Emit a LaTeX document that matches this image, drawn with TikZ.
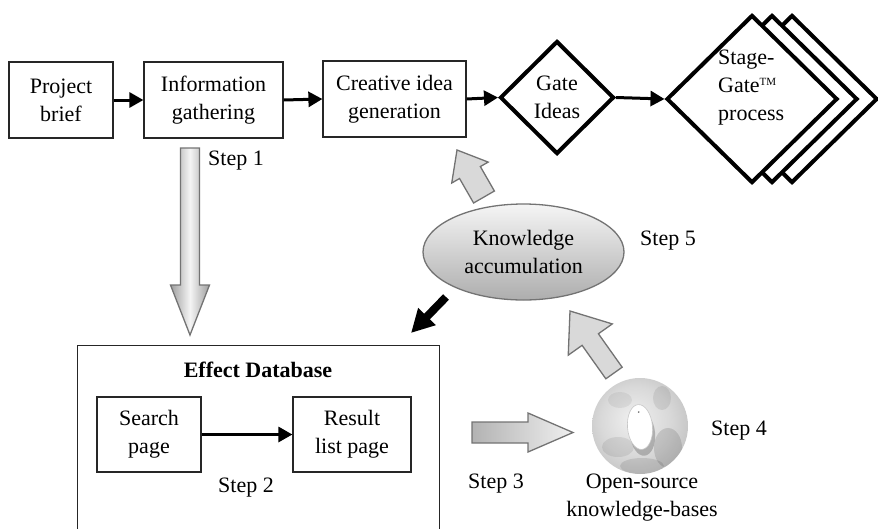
\documentclass[tikz,border=0pt]{standalone}
\usepackage{fontspec}
\setmainfont{Liberation Serif}
\usetikzlibrary{arrows.meta,calc,shapes.geometric}

% radial shading for the textured sphere
\pgfdeclareradialshading{globeshade}{\pgfpoint{-4bp}{4bp}}{%
  color(0bp)=(black!6); color(18bp)=(black!15); color(30bp)=(black!24); color(36bp)=(black!34); color(50bp)=(black!34)}

% block arrow: #1 style, #2 tail, #3 tip, #4 half shaft, #5 half head, #6 head length
\newcommand\blockarrow[6]{%
  \coordinate (bah) at ($(#3)!#6!(#2)$);
  \path[#1] ($(#2)!#4!90:(#3)$) -- ($(bah)!#4!90:(#3)$) -- ($(bah)!#5!90:(#3)$)
    -- (#3) -- ($(bah)!#5!-90:(#3)$) -- ($(bah)!#4!-90:(#3)$) -- ($(#2)!#4!-90:(#3)$) -- cycle;
}

\begin{document}
\begin{tikzpicture}[x=1pt,y=-1pt,
  every node/.style={font=\fontsize{22}{28}\selectfont, align=center},
  box/.style={draw=black!85, line width=1.2pt, fill=white, inner sep=0pt},
  flow/.style={line width=3pt, -{Triangle[length=14pt,width=15pt]}},
  gate/.style={diamond, draw=black, line width=4pt, fill=white, inner sep=0pt},
  grayarrow/.style={draw=black!55, line width=1.3pt, line join=miter},
  steplabel/.style={inner sep=0pt}
]
\useasboundingbox (0,0) rectangle (878,528);
\clip (0,0) rectangle (878,528);

% top process chain
\node[box, minimum width=104pt, minimum height=76pt] (brief) at (61,100) {Project\\brief};
\node[box, minimum width=139pt, minimum height=76pt] (info) at (213.5,100) {Information\\gathering};
\node[box, minimum width=143pt, minimum height=76pt] (creative) at (394.5,99) {Creative idea\\generation};
\node[gate, minimum width=114pt, minimum height=113pt] (gateideas) at (557,97.5) {Gate\\Ideas};

\node[gate, minimum width=171pt, minimum height=168pt] (sg3) at (792,99) {};
\node[gate, minimum width=171pt, minimum height=168pt] (sg2) at (772,99) {};
\node[gate, minimum width=171pt, minimum height=168pt] (sg1) at (752,99) {};
\node[inner sep=0pt, anchor=west, align=left] (sgtext) at (718,88)
  {Stage-\\Gate\raisebox{7pt}{\fontsize{11}{11}\selectfont TM}\\process};

\draw[flow] (brief.east) -- (info.west);
\draw[flow] (info.east) -- (creative.west);
\draw[flow] (creative.east) -- (gateideas.west);
\draw[flow] (gateideas.east) -- (sg1.west);

% effect database
\node[box, minimum width=362pt, minimum height=215pt, anchor=north west] (edb) at (77,345) {};
\node[font=\fontsize{22}{28}\selectfont\bfseries, inner sep=0pt] (edbtitle) at (258,370) {Effect Database};
\node[box, minimum width=104pt, minimum height=75pt] (search) at (149,434.5) {Search\\page};
\node[box, minimum width=118pt, minimum height=75pt] (result) at (352,434.5) {Result\\list page};
\draw[flow] (search.east) -- (result.west);

% knowledge accumulation
\node[ellipse, draw=black!55, line width=1.3pt, top color=black!4, bottom color=black!32,
      minimum width=201pt, minimum height=96pt, inner sep=0pt] (know) at (523.5,252) {Knowledge\\accumulation};

% open-source knowledge sphere with a mouse on it
\node[circle, shading=globeshade, minimum size=96pt, inner sep=0pt] (globe) at (640,426) {};
\begin{scope}
  \clip (globe.center) circle (48);
  \fill[black, opacity=0.08] (618,447) ellipse [x radius=16, y radius=10];
  \fill[black, opacity=0.12] (668,448) ellipse [x radius=14, y radius=20];
  \fill[black, opacity=0.06] (620,400) ellipse [x radius=12, y radius=8];
  \fill[black, opacity=0.08] (662,398) ellipse [x radius=9, y radius=12];
  \fill[black, opacity=0.10] (642,466) ellipse [x radius=22, y radius=8];
\end{scope}
\begin{scope}[shift={(640,427)}, rotate=5]
  \fill[black!50, opacity=0.5] (2,7) ellipse [x radius=12.5, y radius=22];
  \draw[fill=white, draw=black!22, line width=0.6pt] (0,0) ellipse [x radius=12.5, y radius=22.5];
  \fill[black!60] (0,-15) circle (0.9);
\end{scope}

% step labels
\node[steplabel] (s1) at (236,161) {Step 1};
\node[steplabel] (s2) at (246,488) {Step 2};
\node[steplabel] (s3) at (496,484) {Step 3};
\node[steplabel] (s4) at (739,431) {Step 4};
\node[steplabel] (s5) at (668,241) {Step 5};
\node[inner sep=0pt] (oslabel) at (642,498) {Open-source\\knowledge-bases};

% grey block arrows
\coordinate (d1) at (190,148);
\coordinate (d2) at (190,335);
\blockarrow{grayarrow, left color=black!38, right color=black!38, middle color=black!4}{d1}{d2}{9.5pt}{19.5pt}{50pt}

\coordinate (r1) at (472,432.5);
\coordinate (r2) at (573,432.5);
\blockarrow{grayarrow, left color=black!30, right color=black!6}{r1}{r2}{10.5pt}{19.5pt}{45pt}

\coordinate (u1) at (484,197);
\coordinate (u2) at (457,150);
\blockarrow{grayarrow, fill=black!15}{u1}{u2}{12pt}{21pt}{26pt}

\coordinate (g1) at (614,373);
\coordinate (g2) at (570,311);
\blockarrow{grayarrow, fill=black!15}{g1}{g2}{10pt}{27pt}{35pt}

% black feedback arrow into the database
\coordinate (k1) at (446,297);
\coordinate (k2) at (411,333);
\draw[line width=8pt, -{Triangle[length=23pt,width=23pt]}] (k1) -- (k2);

\end{tikzpicture}
\end{document}
